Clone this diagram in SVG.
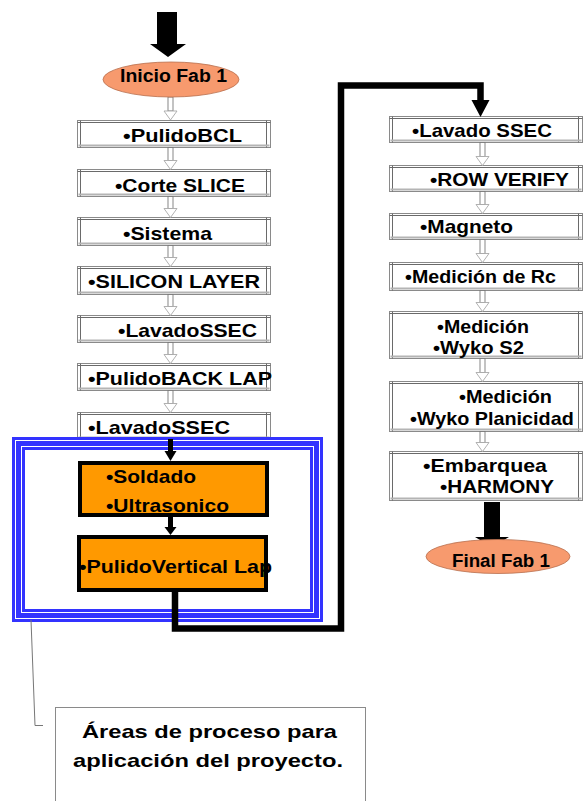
<svg xmlns="http://www.w3.org/2000/svg" width="584" height="801" viewBox="0 0 584 801">
  <style>
    .bx { fill: #ffffff; stroke: #8a8a8a; stroke-width: 1; }
    .bd { fill: none; stroke: #6a6a6a; stroke-width: 1; }
    .bb { fill: none; stroke: #b4b4b4; stroke-width: 2; }
    .t  { font-family: "Liberation Sans", Arial, sans-serif; font-weight: bold; font-size: 17.5px; fill: #000000; }
    .te { font-size: 18.5px; }
    .tc { font-size: 19px; }
    .op { fill: #FF9900; stroke: #000000; stroke-width: 4; }
    .ov { fill: #F79A6E; stroke: #b8704f; stroke-width: 0.8; }
    .hs { fill: #ffffff; stroke: #7a7a7a; stroke-width: 0.9; }
    .hh { fill: #ffffff; stroke: #a8a8a8; stroke-width: 0.9; }
    .ks { fill: #000000; }
    .fr { fill: none; stroke: #3333ff; }
    .wire { fill: none; stroke: #000000; stroke-width: 6.5; stroke-linejoin: miter; }
    .lead { fill: none; stroke: #777777; stroke-width: 1; }
  </style>

  <!-- left column process boxes (labels use a 1.25 horizontal stretch) -->
  <g id="pulido-bcl">
    <rect class="bx" x="77.5" y="120.5" width="193" height="27"/>
    <path class="bd" d="M80.5 120.5v27M266.5 120.5v27M77.5 122.5h193"/>
    <path class="bb" d="M78.5 145.5h191"/>
    <text class="t" transform="matrix(1.25 0 0 1 123 141.5)" textLength="95.2" lengthAdjust="spacingAndGlyphs">•PulidoBCL</text>
  </g>
  <g id="corte-slice">
    <rect class="bx" x="77.5" y="169.5" width="193" height="27"/>
    <path class="bd" d="M80.5 169.5v27M266.5 169.5v27M77.5 171.5h193"/>
    <path class="bb" d="M78.5 194.5h191"/>
    <text class="t" transform="matrix(1.25 0 0 1 115 191.5)" textLength="104" lengthAdjust="spacingAndGlyphs">•Corte SLICE</text>
  </g>
  <g id="sistema">
    <rect class="bx" x="77.5" y="217.5" width="193" height="28"/>
    <path class="bd" d="M80.5 217.5v28M266.5 217.5v28M77.5 219.5h193"/>
    <path class="bb" d="M78.5 243.5h191"/>
    <text class="t" transform="matrix(1.25 0 0 1 123 240)" textLength="71.2" lengthAdjust="spacingAndGlyphs">•Sistema</text>
  </g>
  <g id="silicon-layer">
    <rect class="bx" x="77.5" y="266.5" width="193" height="28"/>
    <path class="bd" d="M80.5 266.5v28M266.5 266.5v28M77.5 268.5h193"/>
    <path class="bb" d="M78.5 292.5h191"/>
    <text class="t" transform="matrix(1.25 0 0 1 88 288)" textLength="137.6" lengthAdjust="spacingAndGlyphs">•SILICON LAYER</text>
  </g>
  <g id="lavado-ssec-1">
    <rect class="bx" x="77.5" y="315.5" width="193" height="27"/>
    <path class="bd" d="M80.5 315.5v27M266.5 315.5v27M77.5 317.5h193"/>
    <path class="bb" d="M78.5 340.5h191"/>
    <text class="t" transform="matrix(1.25 0 0 1 118 337)" textLength="111.2" lengthAdjust="spacingAndGlyphs">•LavadoSSEC</text>
  </g>
  <g id="pulido-back-lap">
    <rect class="bx" x="77.5" y="363.5" width="193" height="27"/>
    <path class="bd" d="M80.5 363.5v27M266.5 363.5v27M77.5 365.5h193"/>
    <path class="bb" d="M78.5 388.5h191"/>
    <text class="t" transform="matrix(1.25 0 0 1 88 385)" textLength="147.2" lengthAdjust="spacingAndGlyphs">•PulidoBACK LAP</text>
  </g>
  <g id="lavado-ssec-2">
    <rect class="bx" x="77.5" y="412.5" width="193" height="27"/>
    <path class="bd" d="M80.5 412.5v27M266.5 412.5v27M77.5 414.5h193"/>
    <path class="bb" d="M78.5 437.5h191"/>
    <text class="t" transform="matrix(1.25 0 0 1 88 433.5)" textLength="113.6" lengthAdjust="spacingAndGlyphs">•LavadoSSEC</text>
  </g>

  <!-- right column process boxes -->
  <g id="lavado-ssec-3">
    <rect class="bx" x="389.5" y="116.5" width="193" height="26"/>
    <path class="bd" d="M392.5 116.5v26M578.5 116.5v26M389.5 118.5h193"/>
    <path class="bb" d="M390.5 140.5h191"/>
    <text class="t" transform="matrix(1.25 0 0 1 412 137)" textLength="112" lengthAdjust="spacingAndGlyphs">•Lavado SSEC</text>
  </g>
  <g id="row-verify">
    <rect class="bx" x="389.5" y="165.5" width="193" height="26"/>
    <path class="bd" d="M392.5 165.5v26M578.5 165.5v26M389.5 167.5h193"/>
    <path class="bb" d="M390.5 189.5h191"/>
    <text class="t" transform="matrix(1.25 0 0 1 430 186)" textLength="111.2" lengthAdjust="spacingAndGlyphs">•ROW VERIFY</text>
  </g>
  <g id="magneto">
    <rect class="bx" x="389.5" y="213.5" width="193" height="26"/>
    <path class="bd" d="M392.5 213.5v26M578.5 213.5v26M389.5 215.5h193"/>
    <path class="bb" d="M390.5 237.5h191"/>
    <text class="t" transform="matrix(1.25 0 0 1 420 232.5)" textLength="74.4" lengthAdjust="spacingAndGlyphs">•Magneto</text>
  </g>
  <g id="medicion-rc">
    <rect class="bx" x="389.5" y="262.5" width="193" height="28"/>
    <path class="bd" d="M392.5 262.5v28M578.5 262.5v28M389.5 264.5h193"/>
    <path class="bb" d="M390.5 288.5h191"/>
    <text class="t" transform="matrix(1.25 0 0 1 405 283)" textLength="120.8" lengthAdjust="spacingAndGlyphs">•Medición de Rc</text>
  </g>
  <g id="medicion-wyko-s2">
    <rect class="bx" x="389.5" y="311.5" width="193" height="47"/>
    <path class="bd" d="M392.5 311.5v47M578.5 311.5v47M389.5 313.5h193"/>
    <path class="bb" d="M390.5 356.5h191"/>
    <text class="t" transform="matrix(1.25 0 0 1 437 333)" textLength="73.6" lengthAdjust="spacingAndGlyphs">•Medición</text>
    <text class="t" transform="matrix(1.25 0 0 1 433 354)" textLength="72.8" lengthAdjust="spacingAndGlyphs">•Wyko S2</text>
  </g>
  <g id="medicion-planicidad">
    <rect class="bx" x="389.5" y="381.5" width="193" height="50"/>
    <path class="bd" d="M392.5 381.5v50M578.5 381.5v50M389.5 383.5h193"/>
    <path class="bb" d="M390.5 429.5h191"/>
    <text class="t" transform="matrix(1.25 0 0 1 459 403)" textLength="74.4" lengthAdjust="spacingAndGlyphs">•Medición</text>
    <text class="t" transform="matrix(1.25 0 0 1 410 425)" textLength="131" lengthAdjust="spacingAndGlyphs">•Wyko Planicidad</text>
  </g>
  <g id="embarque-harmony">
    <rect class="bx" x="389.5" y="451.5" width="193" height="49"/>
    <path class="bd" d="M392.5 451.5v49M578.5 451.5v49M389.5 453.5h193"/>
    <path class="bb" d="M390.5 498.5h191"/>
    <text class="t" transform="matrix(1.25 0 0 1 423 471.5)" textLength="99.2" lengthAdjust="spacingAndGlyphs">•Embarquea</text>
    <text class="t" transform="matrix(1.25 0 0 1 440 493)" textLength="91.2" lengthAdjust="spacingAndGlyphs">•HARMONY</text>
  </g>

  <!-- triple blue outline marking the project area -->
  <g id="project-area">
    <rect class="fr" x="13.5" y="438.5" width="308" height="182" stroke-width="3"/>
    <rect class="fr" x="18.5" y="443.5" width="298" height="172" stroke-width="5"/>
    <rect class="fr" x="23.5" y="448.5" width="288" height="162" stroke-width="3"/>
  </g>

  <!-- connectors -->
  <g id="connectors">
    <!-- heavy entry arrow -->
    <path class="ks" d="M157 12H177V44H186L168 57L150 44H157Z"/>
    <!-- hollow step arrows, left column -->
    <rect class="hs" x="168" y="97" width="5" height="14"/><path class="hh" d="M164 111H177L170.5 120Z"/>
    <rect class="hs" x="168" y="147.5" width="5" height="13"/><path class="hh" d="M164 160.5H177L170.5 169.5Z"/>
    <rect class="hs" x="168" y="196.5" width="5" height="12"/><path class="hh" d="M164 208.5H177L170.5 217.5Z"/>
    <rect class="hs" x="168" y="245.5" width="5" height="12"/><path class="hh" d="M164 257.5H177L170.5 266.5Z"/>
    <rect class="hs" x="168" y="294.5" width="5" height="12"/><path class="hh" d="M164 306.5H177L170.5 315.5Z"/>
    <rect class="hs" x="168" y="342.5" width="5" height="12"/><path class="hh" d="M164 354.5H177L170.5 363.5Z"/>
    <rect class="hs" x="168" y="390.5" width="5" height="13"/><path class="hh" d="M164 403.5H177L170.5 412.5Z"/>
    <!-- solid arrows inside the project area -->
    <rect class="ks" x="168" y="439" width="5" height="12"/><path class="ks" d="M164.5 451H176.5L170.5 461Z"/>
    <rect class="ks" x="168" y="517" width="5" height="10"/><path class="ks" d="M164.5 527H176.5L170.5 535Z"/>
    <!-- return wire to the right column -->
    <path class="wire" d="M175 592V628.5H341V85.5H480.5V101"/>
    <path class="ks" d="M471.5 100H489.5L480.5 117Z"/>
    <!-- hollow step arrows, right column -->
    <rect class="hs" x="480" y="142.5" width="5" height="14"/><path class="hh" d="M476 156.5H489L482.5 165.5Z"/>
    <rect class="hs" x="480" y="191.5" width="5" height="13"/><path class="hh" d="M476 204.5H489L482.5 213.5Z"/>
    <rect class="hs" x="480" y="239.5" width="5" height="14"/><path class="hh" d="M476 253.5H489L482.5 262.5Z"/>
    <rect class="hs" x="480" y="290.5" width="5" height="12"/><path class="hh" d="M476 302.5H489L482.5 311.5Z"/>
    <rect class="hs" x="480" y="358.5" width="5" height="14"/><path class="hh" d="M476 372.5H489L482.5 381.5Z"/>
    <rect class="hs" x="480" y="431.5" width="5" height="11"/><path class="hh" d="M476 442.5H489L482.5 451.5Z"/>
    <!-- heavy exit arrow -->
    <path class="ks" d="M484 502H500V537H509L492 547L475 537H484Z"/>
  </g>

  <!-- highlighted process steps -->
  <g id="soldado-ultrasonico">
    <rect class="op" x="80" y="463" width="187" height="52"/>
    <text class="t" transform="matrix(1.25 0 0 1 106 483)" textLength="72" lengthAdjust="spacingAndGlyphs">•Soldado</text>
    <text class="t" transform="matrix(1.25 0 0 1 106 512)" textLength="98.4" lengthAdjust="spacingAndGlyphs">•Ultrasonico</text>
  </g>
  <g id="pulido-vertical-lap">
    <rect class="op" x="79" y="537" width="187" height="53"/>
    <text class="t" transform="matrix(1.25 0 0 1 79 573)" textLength="154.4" lengthAdjust="spacingAndGlyphs">•PulidoVertical Lap</text>
  </g>

  <!-- start / end terminals -->
  <g id="inicio-fab1">
    <ellipse class="ov" cx="171" cy="79.5" rx="68" ry="17.5"/>
    <text class="t te" transform="matrix(1.1 0 0 1 120 82)" textLength="97.3" lengthAdjust="spacingAndGlyphs">Inicio Fab 1</text>
  </g>
  <g id="final-fab1">
    <ellipse class="ov" cx="498" cy="556.5" rx="72" ry="17"/>
    <text class="t te" transform="matrix(1.1 0 0 1 452 567)" textLength="89" lengthAdjust="spacingAndGlyphs">Final Fab 1</text>
  </g>

  <!-- callout note -->
  <g id="callout">
    <path class="lead" d="M31 620L35 725.5H43"/>
    <rect x="55.5" y="707.5" width="310" height="110" fill="#ffffff" stroke="#8a8a8a" stroke-width="1"/>
    <text class="t tc" transform="matrix(1.25 0 0 1 82 738)" textLength="204" lengthAdjust="spacingAndGlyphs">Áreas de proceso para</text>
    <text class="t tc" transform="matrix(1.25 0 0 1 73 767)" textLength="216" lengthAdjust="spacingAndGlyphs">aplicación del proyecto.</text>
  </g>
</svg>
